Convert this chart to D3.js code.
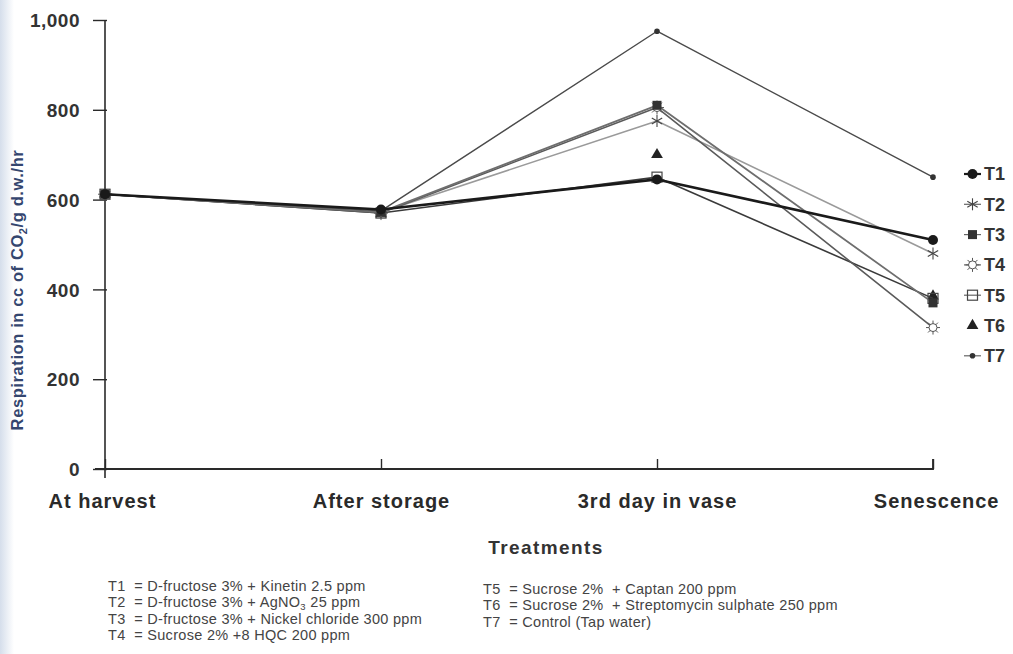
<!DOCTYPE html>
<html>
<head>
<meta charset="utf-8">
<script src="https://cdn.jsdelivr.net/npm/d3@7"></script>
<style>
body { margin: 0; background: #fff; }
svg text { font-family: Arial, "Liberation Sans", sans-serif; }
</style>
</head>
<body>
<div id="chart"></div>
<script>
// stages on x axis
var stages = ["At harvest", "After storage", "3rd day in vase", "Senescence"]
var yTicks = [0, 200, 400, 600, 800, 1000]

// respiration values per treatment
var T1 = [612, 578, 645, 510]
var T2 = [612, 572, 775, 480]
var T3 = [612, 572, 810, 370]
var T4 = [612, 570, 805, 315]
var T5 = [612, 570, 650, 380]
var T6 = [612, 568, 700, 385]
var T7 = [612, 575, 975, 650]

var names = ["T1", "T2", "T3", "T4", "T5", "T6", "T7"]

var notesLeft = ["T1  = D-fructose 3% + Kinetin 2.5 ppm",
                 "T2  = D-fructose 3% + AgNO|3| 25 ppm",
                 "T3  = D-fructose 3% + Nickel chloride 300 ppm",
                 "T4  = Sucrose 2% +8 HQC 200 ppm"]
var notesRight = ["T5  = Sucrose 2%  + Captan 200 ppm",
                  "T6  = Sucrose 2%  + Streptomycin sulphate 250 ppm",
                  "T7  = Control (Tap water)"]

// styling per series
var styles = {
  T1: {stroke: "#1a1a1a", width: 2.6, marker: "circle"},
  T2: {stroke: "#9a9a9a", width: 1.6, marker: "star"},
  T3: {stroke: "#6e6e6e", width: 1.8, marker: "square"},
  T4: {stroke: "#5a5a5a", width: 1.6, marker: "sun"},
  T5: {stroke: "#3a3a3a", width: 1.6, marker: "opensquare"},
  T6: {stroke: "none", width: 0, marker: "triangle"},
  T7: {stroke: "#4a4a4a", width: 1.4, marker: "dot"}
}

var series = names.map(function(n, i){ return {name: n, values: [T1, T2, T3, T4, T5, T6, T7][i]} })

var W = 1013, H = 654
var svg = d3.select("#chart").append("svg").attr("width", W).attr("height", H)

// faint scan edge on the left
var grad = svg.append("defs").append("linearGradient").attr("id", "edge")
grad.append("stop").attr("offset", "0%").attr("stop-color", "#d5deeb")
grad.append("stop").attr("offset", "100%").attr("stop-color", "#ffffff")
svg.append("rect").attr("x", 0).attr("y", 0).attr("width", 14).attr("height", H).attr("fill", "url(#edge)")

var x = d3.scalePoint().domain(stages).range([105, 933])
var y = d3.scaleLinear().domain([0, 1000]).range([469, 20])

// y axis
var yAxis = d3.axisLeft(y).tickValues(yTicks).tickFormat(d3.format(",")).tickSize(12).tickSizeOuter(0)
var gy = svg.append("g").attr("transform", "translate(105,0)").call(yAxis)
gy.select(".domain").attr("stroke", "#2a2a2a").attr("stroke-width", 1.6).attr("d", "M0,20V478")
gy.selectAll(".tick line").attr("stroke", "#2a2a2a").attr("stroke-width", 1.4).attr("x1", 2)
gy.selectAll(".tick text").attr("x", -25).attr("dy", "0.35em")
  .style("font-size", "19px").style("font-weight", "bold").style("letter-spacing", "0.5px").attr("fill", "#333")

// x axis
var xAxis = d3.axisBottom(x).tickSize(-10).tickSizeOuter(0).tickPadding(25)
var gx = svg.append("g").attr("transform", "translate(0,469)").call(xAxis)
gx.select(".domain").attr("stroke", "#2a2a2a").attr("stroke-width", 1.8).attr("d", "M95,0H933V-10")
gx.selectAll(".tick line").attr("stroke", "#2a2a2a").attr("stroke-width", 1.4)
gx.selectAll(".tick text").style("font-size", "20px").style("font-weight", "bold").style("letter-spacing", "1px").attr("fill", "#2a2a2a")
  .attr("text-anchor", function(d, i){ return i == 0 ? "start" : (i == 3 ? "end" : "middle") })
  .attr("dx", function(d, i){ return i == 0 ? -57 : (i == 3 ? 66 : 0) })

// axis titles
svg.append("text").attr("x", 546).attr("y", 554).attr("text-anchor", "middle")
  .style("font-size", "19px").style("font-weight", "bold").style("letter-spacing", "1.4px").attr("fill", "#333").text("Treatments")

var yt = svg.append("text").attr("transform", "translate(23,290) rotate(-90)").attr("text-anchor", "middle")
  .style("font-size", "16.5px").style("font-weight", "bold").style("letter-spacing", "0.6px").attr("fill", "#34466f")
yt.append("tspan").text("Respiration in cc of CO")
yt.append("tspan").text("2").attr("dy", 4).style("font-size", "11px")
yt.append("tspan").text("/g d.w./hr").attr("dy", -4)

// markers
function drawMarker(g, type, cx, cy, color) {
  if (type == "circle") {
    g.append("circle").attr("cx", cx).attr("cy", cy).attr("r", 5).attr("fill", "#1a1a1a")
  } else if (type == "square") {
    g.append("rect").attr("x", cx - 4.5).attr("y", cy - 4.5).attr("width", 9).attr("height", 9).attr("fill", "#333")
  } else if (type == "opensquare") {
    g.append("rect").attr("x", cx - 5).attr("y", cy - 5).attr("width", 10).attr("height", 10)
      .attr("fill", "none").attr("stroke", "#444").attr("stroke-width", 1.2)
  } else if (type == "triangle") {
    g.append("path").attr("d", d3.symbol().type(d3.symbolTriangle).size(60)()).attr("transform", "translate(" + cx + "," + cy + ")").attr("fill", "#222")
  } else if (type == "dot") {
    g.append("circle").attr("cx", cx).attr("cy", cy).attr("r", 2.8).attr("fill", "#333")
  } else if (type == "star") {
    var s = 6
    for (var k = 0; k < 3; k++) {
      var a = Math.PI / 2 + k * Math.PI / 3
      g.append("line").attr("x1", cx - s * Math.cos(a)).attr("y1", cy - s * Math.sin(a))
        .attr("x2", cx + s * Math.cos(a)).attr("y2", cy + s * Math.sin(a)).attr("stroke", "#444").attr("stroke-width", 1.1)
    }
  } else if (type == "sun") {
    g.append("circle").attr("cx", cx).attr("cy", cy).attr("r", 4).attr("fill", "#fff").attr("stroke", "#555").attr("stroke-width", 1)
    for (var k = 0; k < 8; k++) {
      var a = k * Math.PI / 4
      g.append("line").attr("x1", cx + 4 * Math.cos(a)).attr("y1", cy + 4 * Math.sin(a))
        .attr("x2", cx + 7 * Math.cos(a)).attr("y2", cy + 7 * Math.sin(a)).attr("stroke", "#555").attr("stroke-width", 1)
    }
  }
}

var line = d3.line().x(function(d, i){ return x(stages[i]) }).y(function(d){ return y(d) })

// draw order so T1 sits on top
var order = ["T6", "T2", "T5", "T4", "T3", "T7", "T1"]
order.forEach(function(n){
  var s = series.filter(function(d){ return d.name == n })[0]
  var st = styles[n]
  var g = svg.append("g").attr("class", "series")
  if (st.stroke != "none") {
    g.append("path").datum(s.values).attr("d", line).attr("fill", "none")
      .attr("stroke", st.stroke).attr("stroke-width", st.width).attr("stroke-linejoin", "round")
  }
  s.values.forEach(function(v, i){ drawMarker(g, st.marker, x(stages[i]), y(v), st.stroke) })
})

// legend
var lg = svg.append("g")
names.forEach(function(n, i){
  var st = styles[n]
  var ly = 174 + i * 30.3
  if (st.stroke != "none") {
    lg.append("line").attr("x1", 964).attr("x2", 981).attr("y1", ly).attr("y2", ly)
      .attr("stroke", n == "T1" ? "#1a1a1a" : "#666").attr("stroke-width", n == "T1" ? 2.2 : 1.2)
  }
  drawMarker(lg, st.marker, 972.5, ly, st.stroke)
  lg.append("text").attr("x", 984).attr("y", ly).attr("dy", "0.36em")
    .style("font-size", "18px").style("font-weight", "bold").attr("fill", "#333").text(n)
})

// footnotes
function noteText(txt, tx, ty) {
  var t = svg.append("text").attr("x", tx).attr("y", ty).style("font-size", "14.5px")
    .style("letter-spacing", "0.3px")
    .style("white-space", "pre").attr("fill", "#444")
  var parts = txt.split("|")
  parts.forEach(function(p, k){
    var ts = t.append("tspan").text(p)
    if (k == 1) { ts.attr("dy", 3).style("font-size", "9.5px") }
    if (k == 2) { ts.attr("dy", -3) }
  })
}
notesLeft.forEach(function(d, i){ noteText(d, 108, 591 + i * 16.3) })
notesRight.forEach(function(d, i){ noteText(d, 483, 594 + i * 16.3) })
</script>
</body>
</html>
